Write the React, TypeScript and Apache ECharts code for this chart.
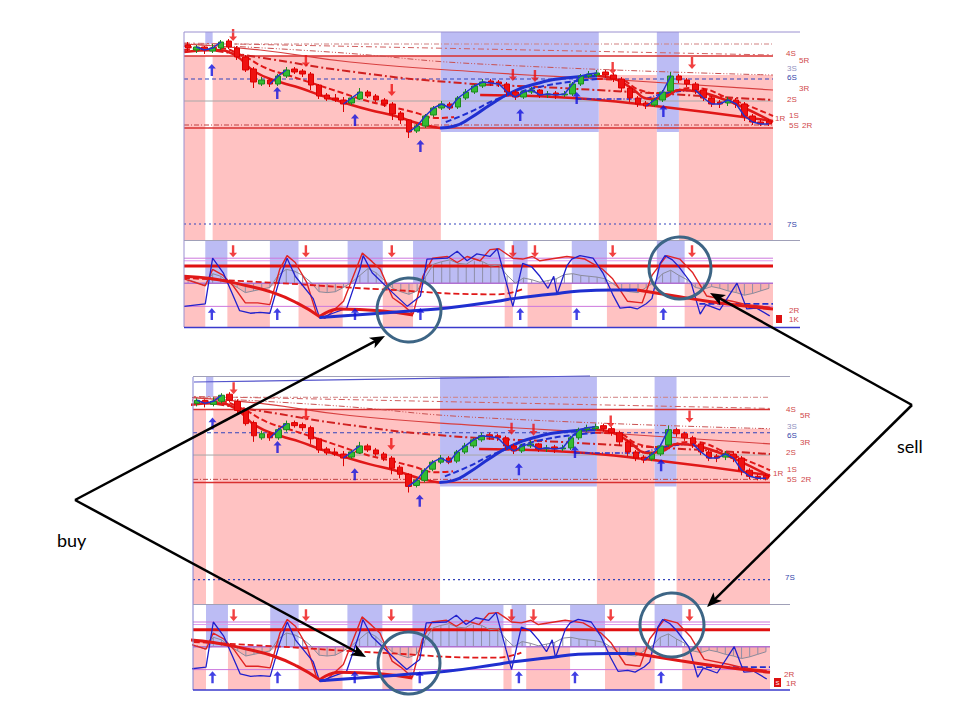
import React, { useEffect, useRef } from "react";
import * as echarts from "echarts";

// ---------- DATA ----------
// candles: [open, close, low, high]
const candles: number[][] = [
  [69.5, 69.2, 68.9, 69.8], [69.0, 69.3, 68.7, 69.5], [69.3, 69.0, 68.6, 69.4], [68.9, 69.2, 68.7, 69.6],
  [69.2, 69.8, 69.0, 70.0], [69.9, 69.3, 69.1, 70.1], [69.2, 68.3, 68.0, 69.4], [68.3, 67.0, 66.8, 68.5],
  [67.1, 65.8, 65.2, 67.3], [65.6, 66.0, 65.4, 66.3], [66.0, 65.6, 65.3, 66.2], [65.6, 66.4, 65.4, 66.6],
  [66.4, 67.0, 66.2, 67.3], [67.1, 66.8, 66.6, 67.3], [66.9, 66.6, 66.3, 67.1], [66.6, 65.5, 65.0, 66.8],
  [65.5, 64.4, 64.1, 65.6], [64.5, 64.1, 63.9, 64.7], [64.2, 64.0, 63.8, 64.6], [64.0, 63.6, 62.8, 64.3],
  [63.7, 64.2, 63.5, 64.4], [64.1, 64.8, 64.0, 65.2], [64.8, 64.4, 64.2, 65.0], [64.4, 64.0, 63.8, 64.6],
  [64.0, 63.6, 63.3, 64.2], [63.6, 62.6, 62.0, 63.8], [62.7, 62.0, 61.6, 62.9], [62.0, 60.8, 60.2, 62.1],
  [60.9, 61.4, 60.7, 61.6], [61.4, 62.4, 61.2, 62.6], [62.5, 63.2, 62.3, 63.4], [63.2, 63.6, 63.0, 63.9],
  [63.6, 63.2, 63.0, 63.8], [63.3, 64.2, 63.1, 64.4], [64.2, 64.8, 64.0, 65.1], [64.8, 65.4, 64.6, 65.6],
  [65.4, 65.8, 65.2, 66.1], [65.9, 65.7, 65.4, 66.1], [65.8, 65.6, 65.3, 66.0], [65.6, 64.8, 64.4, 65.8],
  [64.8, 64.3, 64.0, 65.0], [64.3, 64.8, 64.1, 65.0], [64.8, 65.0, 64.6, 65.3], [65.0, 64.5, 64.2, 65.1],
  [64.5, 64.6, 64.2, 64.9], [64.7, 64.5, 64.1, 64.9], [64.5, 64.6, 64.3, 64.9], [64.6, 65.6, 64.4, 65.8],
  [65.6, 66.4, 65.4, 66.6], [66.4, 66.6, 66.2, 66.9], [66.5, 66.7, 66.3, 67.0], [66.8, 66.5, 66.2, 67.0],
  [66.5, 66.1, 65.8, 66.7], [66.1, 65.2, 64.8, 66.3], [65.2, 64.2, 63.8, 65.4], [64.2, 63.6, 63.3, 64.4],
  [63.7, 63.4, 63.1, 63.9], [63.5, 64.0, 63.3, 64.2], [64.0, 64.8, 63.8, 65.0], [64.9, 66.4, 64.7, 66.8],
  [66.4, 66.0, 65.7, 66.6], [66.0, 65.6, 65.3, 66.2], [65.6, 65.0, 64.6, 65.8], [65.0, 64.2, 63.9, 65.2],
  [64.2, 63.6, 63.3, 64.4], [63.8, 63.6, 63.2, 64.0], [63.7, 64.0, 63.4, 64.3], [64.0, 63.6, 63.2, 64.2],
  [63.6, 62.4, 61.9, 63.8], [62.4, 61.8, 61.5, 62.6], [61.8, 61.6, 61.4, 62.0], [61.9, 61.6, 61.4, 62.1],
];
const bluePriceRanges = [[1, 4], [10, 12], [19, 21], [27, 50], [56, 59], [62, 71]];

// oscillator histogram value per candle (sub panel, 0..100)
const histValues = [
  55, 52, 48, 62, 59, 52, 46, 40, 42, 44, 46, 60, 67, 65, 60, 52, 41, 40, 41, 46,
  52, 60, 68, 63, 54, 45, 41, 38, 42, 58, 73, 76, 78, 74, 73, 79, 76, 71, 72, 60,
  51, 57, 55, 52, 54, 56, 61, 62, 60, 59, 58, 56, 50, 43, 41, 40, 46, 52, 62, 66,
  60, 55, 46, 44, 47, 45, 42, 40, 37, 39, 42, 45,
];
const HIST_BASE = 51;

// main-panel horizontal levels (price)
const levelValues = [69.6, 68.4, 66.1, 63.9, 61.5, 61.2, 51.6];
// sloping / curved levels [x, price]
const curve4S = [[0, 69.7], [36.2, 69.1], [72, 68.5]];
const curve3S = [[0, 69.6], [17.8, 68.8], [36.2, 67.6], [72, 66.5]];
const curve3R = [[0, 69.6], [9.3, 69.0], [20.3, 67.8], [36.2, 66.8], [53.3, 66.0], [72, 65.0]];
const curve2S = [[0, 69.4], [9.7, 68.2], [19.9, 66.9], [32.2, 65.8], [46, 65.2], [72, 64.0]];
const curve1R = [[36.2, 64.5], [47.5, 64.2], [56.6, 63.5], [72, 61.9]];
// fast moving average, split by regime
const fastRedA = [[0, 68.8], [3.8, 69.0], [6.2, 68.5], [8.7, 66.8], [11.7, 65.8], [14.2, 65.2], [16.6, 64.5], [19.7, 63.7], [22.7, 63.0], [25.8, 62.4], [28.9, 61.6], [31.3, 61.2]];
const fastBlue = [[31.3, 61.2], [33.1, 61.4], [35, 62.2], [37.4, 63.5], [39.9, 64.7], [42.9, 65.6], [46.6, 66.2], [50.5, 66.4]];
const fastRedB = [[50.5, 66.4], [52.7, 66.1], [54.5, 65.3], [57, 64.1], [58.8, 64.3], [60.6, 65.0], [63.1, 64.8], [65.5, 64.2], [68, 63.4], [72, 61.8]];
const dashRedA = [[0, 69.0], [4, 69.2], [7, 68.5], [10, 67.2], [13, 66.4], [16, 65.6], [19, 64.8], [22, 64.0], [25, 63.4], [28, 62.8], [31, 62.2], [33, 62.3]];
const dashBlue = [[32, 61.8], [35, 62.8], [38, 64.0], [41, 64.8], [44, 65.4], [47, 65.8], [50.5, 66.1]];
const dashRedB = [[50.5, 66.1], [53.3, 66.0], [55.7, 65.0], [58.2, 64.7], [62.2, 65.2], [67.1, 64.0], [72, 62.4]];
const dashDotBlue = [[48, 64.1], [55.4, 64.1], [59, 64.7], [62.7, 65.0]];

// shaded regimes: [from, to, edge]
const mainPinkZones = [[0, 2.6, 68.4], [3.5, 31.4, 68.4], [50.7, 57.8, 66.5], [60.5, 72, 66.5]];
const mainBlueZones = [[2.6, 3.5, 69.6], [31.4, 50.7, 60.8], [57.8, 60.5, 60.8]];
const subPinkZones = [[0, 2.6, 59], [5.3, 10.5, 51], [14, 19.4, 51], [24.3, 28, 51], [39.2, 40.2, 51], [42, 47.4, 51], [51.7, 57.8, 51], [61.2, 72, 51]];
const subBlueZones = [[2.6, 5.3, 51], [10.5, 14, 51], [20, 24.3, 51], [28, 39.2, 51], [40.2, 42, 51], [47.4, 51.7, 51], [57.8, 61.2, 51]];

// signals
const buySignalX = [3.4, 11.4, 20.9, 28.9, 41.1, 48.0, 58.6];
const buyArrowPrice = [67.0, 64.7, 62.0, 59.4, 62.5, 64.2, 62.9];
const sellSignalX = [6.0, 14.9, 25.4, 40.2, 42.9, 52.4, 62.1];
const sellArrowPrice = [70.5, 67.9, 65.0, 66.5, 66.4, 67.2, 67.7];
const SUB_BUY_LEVEL = 15;
const SUB_SELL_LEVEL = 88;

// sub-panel lines [x, value]
const subLevels = [80, 77, 71, 51, 24];
const subBlueOsc = [[0, 24], [2.6, 27], [3.5, 80], [4.8, 63], [6.8, 19], [8.1, 16], [9.3, 17], [10.5, 16], [11.7, 56], [12.6, 80], [13.6, 59], [15.8, 33], [16.6, 10], [18.2, 16], [19.9, 22], [21.5, 67], [21.9, 83], [23, 63], [25.5, 40], [27.3, 24], [28.9, 36], [29.7, 79], [32.2, 80], [33.4, 88], [34.6, 77], [35.8, 85], [37.4, 82], [38.3, 91], [39.5, 48], [40.2, 24], [41.4, 74], [42.5, 70], [43.5, 59], [44.5, 45], [45.2, 59], [45.6, 38], [46.8, 71], [47.4, 79], [48.4, 83], [50, 80], [51.2, 63], [52.4, 38], [53.3, 22], [54.5, 23], [55.4, 21], [56.5, 27], [57.2, 33], [58.2, 74], [58.8, 83], [59.7, 78], [60.5, 70], [62, 51], [63.1, 15], [63.8, 26], [65.5, 20], [67.6, 51], [68.8, 21], [70, 22], [71.6, 13]];
const subRedOsc = [[0, 56], [2.6, 48], [3.5, 67], [4.8, 60], [6, 48], [7.5, 28], [9, 28], [10.5, 26], [11.7, 67], [12.6, 83], [13.6, 75], [15, 52], [16.2, 15], [17.2, 10], [19.5, 30], [21.8, 86], [23, 76], [24, 67], [25.5, 34], [26.7, 26], [28, 15], [29.2, 59], [30.4, 80], [32.2, 82], [33.4, 75], [34.6, 82], [36.2, 77], [37.4, 90], [38.5, 91], [40.2, 80], [41.4, 79], [42.6, 82], [43.5, 77], [46.8, 82], [49, 79], [51.2, 67], [52.4, 56], [54.2, 30], [56, 28], [57.2, 60], [59, 83], [60.6, 79], [62.2, 63], [63.9, 36], [67, 30], [68.8, 26], [71.6, 23]];
const subSlowRedA = [[0, 59], [3.5, 56], [7.7, 48], [10.9, 40], [13.8, 28], [16.6, 12]];
const subSlowRedB = [[16.6, 12], [19, 21], [24, 19], [28, 14]];
const subSlowBlue = [[16.6, 11], [24, 16], [28, 19], [32.2, 22], [38.3, 30], [40.2, 33], [44.8, 38], [48.4, 42], [52.4, 43], [55.4, 43]];
const subSlowRedC = [[55.4, 43], [60, 36], [64, 30], [68, 25], [72, 21]];
const subRedDashed = [[0, 57], [11.7, 51], [23.7, 44], [38.3, 38], [41.4, 44]];
const subBlueDashed = [[63, 27], [72, 27]];

// ---------- STYLE ----------
const RED = "#e01818";
const BLUE = "#1f2fd0";
const PINK = "#ffc2c2";
const LILAC = "#bcbcf4";
const UP_ARROW = "path://M5 0 L10 5 L6.5 5 L6.5 13 L3.5 13 L3.5 5 L0 5 Z";
const DOWN_ARROW = "path://M3.5 0 L6.5 0 L6.5 8 L10 8 L5 13 L0 8 L3.5 8 Z";
const levelStyles = [
  { color: "#d08080", width: 1, type: [5, 2, 1, 2] },
  { color: "#d83030", width: 1.5, type: "solid" },
  { color: "#3344bb", width: 1.2, type: [4, 3] },
  { color: "#a8a8a8", width: 1, type: "solid" },
  { color: "#c04040", width: 1, type: [5, 2, 1, 2] },
  { color: "#d83030", width: 1.5, type: "solid" },
  { color: "#3344bb", width: 1.2, type: [2, 3] },
];
const subLevelStyles = [
  { color: "#cc77dd", width: 1 },
  { color: "#dd99ee", width: 1 },
  { color: "#e01010", width: 3 },
  { color: "#b070d0", width: 1.5 },
  { color: "#cc77dd", width: 1 },
];

const panels = [
  { start: 0, count: 72, priceMin: 50, priceMax: 70.8, b: 0 },
  { start: 1, count: 71, priceMin: 49.2, priceMax: 71.6, b: 1 },
];

function buildPanel(p: any) {
  const mc = 4 * p.b, mv = 4 * p.b + 1, sc = 4 * p.b + 2, sv = 4 * p.b + 3;
  const py = 3 * p.b, sy = 3 * p.b + 1, hy = 3 * p.b + 2;
  const end = p.start + p.count;
  const cl = (x: number) => Math.max(p.start, Math.min(end, x));
  const series: any[] = [];
  const line = (data: any, xi: number, yi: number, style: any, extra: any = {}) => ({
    type: "line", xAxisIndex: xi, yAxisIndex: yi, data, showSymbol: false, symbol: "none",
    lineStyle: style, silent: true, z: 3, ...extra,
  });
  // zones main
  series.push(line([[p.start, p.priceMin]], mv, py, { width: 0 }, {
    z: 0,
    markArea: {
      silent: true,
      data: [
        ...mainPinkZones.map((z) => [{ coord: [cl(z[0]), z[2]], itemStyle: { color: PINK } }, { coord: [cl(z[1]), p.priceMin] }]),
        ...mainBlueZones.map((z) => [{ coord: [cl(z[0]), p.priceMax], itemStyle: { color: LILAC } }, { coord: [cl(z[1]), z[2]] }]),
      ],
    },
  }));
  // zones sub
  series.push(line([[p.start, 0]], sv, sy, { width: 0 }, {
    z: 0,
    markArea: {
      silent: true,
      data: [
        ...subPinkZones.map((z) => [{ coord: [cl(z[0]), z[2]], itemStyle: { color: PINK } }, { coord: [cl(z[1]), 0] }]),
        ...subBlueZones.map((z) => [{ coord: [cl(z[0]), 100], itemStyle: { color: LILAC } }, { coord: [cl(z[1]), z[2]] }]),
      ],
    },
  }));
  // horizontal levels
  levelValues.forEach((v, i) => series.push(line([[p.start, v], [end, v]], mv, py, levelStyles[i], { z: 2 })));
  // sloping levels
  series.push(line(curve4S, mv, py, { color: "#d06060", width: 1, type: [6, 3, 2, 3] }));
  series.push(line(curve3S, mv, py, { color: "#c85050", width: 1, type: [6, 2, 1, 2, 1, 2] }, { smooth: true }));
  series.push(line(curve3R, mv, py, { color: "#d84040", width: 1.2 }, { smooth: true }));
  series.push(line(curve2S, mv, py, { color: "#d02020", width: 2, type: [8, 3, 2, 3] }, { smooth: true }));
  series.push(line(curve1R, mv, py, { color: RED, width: 2.5 }, { smooth: true }));
  // moving averages
  series.push(line(dashRedA, mv, py, { color: RED, width: 2, type: [6, 3] }, { smooth: true, z: 4 }));
  series.push(line(dashBlue, mv, py, { color: BLUE, width: 2, type: [6, 3] }, { smooth: true, z: 4 }));
  series.push(line(dashRedB, mv, py, { color: RED, width: 2, type: [6, 3] }, { smooth: true, z: 4 }));
  series.push(line(dashDotBlue, mv, py, { color: BLUE, width: 1.5, type: [5, 2, 1, 2] }, { smooth: true, z: 4 }));
  series.push(line(fastRedA, mv, py, { color: RED, width: 2.5 }, { smooth: true, z: 4 }));
  series.push(line(fastBlue, mv, py, { color: BLUE, width: 3 }, { smooth: true, z: 4 }));
  series.push(line(fastRedB, mv, py, { color: RED, width: 2.5 }, { smooth: true, z: 4 }));
  // candles
  const cs = candles.slice(p.start, end);
  series.push({
    type: "candlestick", xAxisIndex: mc, yAxisIndex: py, data: cs, barWidth: 6, z: 6, silent: true,
    itemStyle: { color: "#33bb33", color0: "#ee1111", borderColor: "#1d8a1d", borderColor0: "#dd0000", borderWidth: 1 },
  });
  // blue price line
  const bl = cs.map((c, k) => {
    const i = k + p.start;
    return bluePriceRanges.some((r) => i >= r[0] && i <= r[1]) ? c[1] : "-";
  });
  series.push(line(bl, mc, py, { color: "#2233cc", width: 1.5 }, { z: 7 }));
  // arrows main
  series.push({
    type: "scatter", xAxisIndex: mv, yAxisIndex: py, symbol: UP_ARROW, symbolSize: [8, 12], silent: true, z: 8,
    itemStyle: { color: "#1010dd" }, data: buySignalX.map((x, i) => [x, buyArrowPrice[i]]),
  });
  series.push({
    type: "scatter", xAxisIndex: mv, yAxisIndex: py, symbol: DOWN_ARROW, symbolSize: [8, 12], silent: true, z: 8,
    itemStyle: { color: "#ee1111" }, data: sellSignalX.map((x, i) => [x, sellArrowPrice[i]]),
  });
  // sub levels
  subLevels.forEach((v, i) => series.push(line([[p.start, v], [end, v]], sv, sy, subLevelStyles[i], { z: 2 })));
  // histogram
  const hs = histValues.slice(p.start, end);
  series.push({
    type: "bar", xAxisIndex: sc, yAxisIndex: hy, data: hs.map((v) => v - HIST_BASE), barWidth: 1, silent: true, z: 2,
    itemStyle: { color: "#8f8fa8" },
  });
  series.push(line(hs.map((v) => Math.min(v - HIST_BASE, 0)), sc, hy, { width: 0 }, {
    z: 1, areaStyle: { color: "#f4a8a8", opacity: 0.75, origin: 0 },
  }));
  series.push(line(hs, sc, sy, { color: "#8a8a9a", width: 1 }, { z: 3 }));
  // oscillators
  series.push(line(subRedDashed, sv, sy, { color: RED, width: 1.8, type: [6, 3] }, { smooth: true }));
  series.push(line(subBlueDashed, sv, sy, { color: BLUE, width: 1.8, type: [6, 3] }));
  series.push(line(subRedOsc, sv, sy, { color: "#e02424", width: 1.4 }, { z: 4 }));
  series.push(line(subBlueOsc, sv, sy, { color: "#2020cc", width: 1.3 }, { z: 4 }));
  series.push(line(subSlowRedA, sv, sy, { color: RED, width: 3 }, { smooth: true, z: 5 }));
  series.push(line(subSlowRedB, sv, sy, { color: RED, width: 3 }, { smooth: true, z: 5 }));
  series.push(line(subSlowBlue, sv, sy, { color: BLUE, width: 3 }, { smooth: true, z: 5 }));
  series.push(line(subSlowRedC, sv, sy, { color: RED, width: 3 }, { smooth: true, z: 5 }));
  // arrows sub
  series.push({
    type: "scatter", xAxisIndex: sv, yAxisIndex: sy, symbol: UP_ARROW, symbolSize: [8, 12], silent: true, z: 8,
    itemStyle: { color: "#1010dd" }, data: buySignalX.map((x) => [x, SUB_BUY_LEVEL]),
  });
  series.push({
    type: "scatter", xAxisIndex: sv, yAxisIndex: sy, symbol: DOWN_ARROW, symbolSize: [8, 12], silent: true, z: 8,
    itemStyle: { color: "#ee1111" }, data: sellSignalX.map((x) => [x, SUB_SELL_LEVEL]),
  });
  return series;
}

function arrow(x1: number, y1: number, x2: number, y2: number) {
  const a = Math.atan2(y2 - y1, x2 - x1);
  const L = 15, W = 6;
  const bx = x2 - L * Math.cos(a), by = y2 - L * Math.sin(a);
  const px = -Math.sin(a) * W, py = Math.cos(a) * W;
  return [
    { type: "line", z: 100, shape: { x1, y1, x2: bx + L * 0.3 * Math.cos(a), y2: by + L * 0.3 * Math.sin(a) }, style: { stroke: "#000", lineWidth: 2.5 } },
    { type: "polygon", z: 100, shape: { points: [[x2, y2], [bx + px, by + py], [bx + L * 0.25 * Math.cos(a), by + L * 0.25 * Math.sin(a)], [bx - px, by - py]] }, style: { fill: "#000" } },
  ];
}

function txt(t: string, x: number, y: number, fill: string, size = 8) {
  return { type: "text", z: 50, x, y, style: { text: t, fill, font: `${size}px "Liberation Sans", Arial, sans-serif`, verticalAlign: "middle", textVerticalAlign: "middle" } };
}

function hline(x1: number, x2: number, y: number, stroke: string, w = 1) {
  return { type: "line", z: 40, shape: { x1, y1: y, x2, y2: y }, style: { stroke, lineWidth: w } };
}
function vline(x: number, y1: number, y2: number, stroke: string, w = 1) {
  return { type: "line", z: 40, shape: { x1: x, y1, x2: x, y2 }, style: { stroke, lineWidth: w } };
}

const LR = "#d04848";
const LB = "#3344aa";

export default function App() {
  const ref = useRef<HTMLDivElement>(null);
  useEffect(() => {
    if (!ref.current) return;
    const chart = echarts.init(ref.current, null, { renderer: "svg" });
    const grids = [
      { left: 184, top: 32, width: 589, height: 208 },
      { left: 184, top: 241, width: 589, height: 86 },
      { left: 193, top: 377, width: 577, height: 227 },
      { left: 193, top: 605, width: 577, height: 85 },
    ];
    const xAxis: any[] = [];
    const yAxis: any[] = [];
    panels.forEach((p, pi) => {
      const cats = candles.slice(p.start, p.start + p.count).map((_, k) => String(k + p.start + 1));
      [2 * pi, 2 * pi + 1].forEach((g) => {
        xAxis.push({ type: "category", gridIndex: g, data: cats, show: false, boundaryGap: true });
        xAxis.push({ type: "value", gridIndex: g, min: p.start, max: p.start + p.count, show: false });
      });
      yAxis.push({ type: "value", gridIndex: 2 * pi, min: p.priceMin, max: p.priceMax, show: false });
      yAxis.push({ type: "value", gridIndex: 2 * pi + 1, min: 0, max: 100, show: false });
      yAxis.push({ type: "value", gridIndex: 2 * pi + 1, min: -HIST_BASE, max: 100 - HIST_BASE, show: false });
    });
    const series = panels.flatMap((p) => buildPanel(p));

    const graphic: any[] = [
      // top panel frame
      hline(184, 800, 32, "#9a90d0"), vline(184, 32, 327, "#9a90d0"),
      hline(184, 800, 240.5, "#a0a0b8"), hline(184, 800, 327.5, "#3a3acc", 1.5),
      // bottom panel frame
      hline(193, 790, 376.5, "#a0a0b8"), vline(193, 377, 690, "#8080d0"),
      hline(193, 790, 604.5, "#a0a0b8"), hline(193, 790, 690, "#3a3acc", 1.5),
      { type: "line", z: 41, shape: { x1: 194, y1: 382, x2: 590, y2: 376 }, style: { stroke: "#5555cc", lineWidth: 1.2 } },
      // labels top
      txt("4S", 786, 53, LR), txt("5R", 799, 60, LR), txt("3S", 787, 68, "#9090c0"), txt("6S", 787, 77, LB),
      txt("3R", 799, 88, LR), txt("2S", 787, 99, LR), txt("1R", 775, 118, LR), txt("1S", 789, 115, LR),
      txt("5S", 789, 125, LR), txt("2R", 802, 125, LR), txt("7S", 787, 224, LB),
      txt("2R", 789, 310, LR), txt("1K", 789, 319, LR),
      { type: "rect", z: 50, shape: { x: 776, y: 315, width: 6, height: 8 }, style: { fill: "#dd1111" } },
      // labels bottom
      txt("4S", 786, 409, LR), txt("5R", 800, 415, LR), txt("3S", 787, 426, "#9090c0"), txt("6S", 787, 435, LB),
      txt("3R", 800, 442, LR), txt("2S", 786, 452, LR), txt("1R", 773, 473, LR), txt("1S", 787, 469, LR),
      txt("5S", 787, 479, LR), txt("2R", 801, 479, LR), txt("7S", 785, 577, LB),
      txt("2R", 784, 674, LR), txt("1R", 786, 683, LR),
      { type: "rect", z: 50, shape: { x: 774, y: 678, width: 7, height: 9 }, style: { fill: "#dd1111" } },
      { type: "text", z: 51, x: 775.5, y: 682.5, style: { text: "S", fill: "#fff", font: '6px "Liberation Sans", sans-serif', verticalAlign: "middle", textVerticalAlign: "middle" } },
      // circles
      ...[[409, 310, 32], [680, 268, 31], [409, 663, 31], [672, 625, 32]].map((c) => ({
        type: "circle", z: 90, shape: { cx: c[0], cy: c[1], r: c[2] },
        style: { fill: "rgba(0,0,0,0)", stroke: "#3d6585", lineWidth: 3 },
      })),
      // annotation arrows
      ...arrow(75, 500, 385, 336),
      ...arrow(75, 500, 366, 657),
      ...arrow(912, 405, 710, 293),
      ...arrow(912, 405, 707, 607),
      // annotation texts
      { type: "text", z: 100, x: 57, y: 540, style: { text: "buy", fill: "#000", font: '18px Lato, "Open Sans", sans-serif', verticalAlign: "middle", textVerticalAlign: "middle" } },
      { type: "text", z: 100, x: 897, y: 446, style: { text: "sell", fill: "#000", font: '18px Lato, "Open Sans", sans-serif', verticalAlign: "middle", textVerticalAlign: "middle" } },
    ];

    chart.setOption({
      animation: false,
      backgroundColor: "#ffffff",
      grid: grids,
      xAxis,
      yAxis,
      series,
      graphic,
    });
    return () => chart.dispose();
  }, []);
  return <div ref={ref} style={{ position: "absolute", left: 0, top: 0, width: 960, height: 720, background: "#fff" }} />;
}
